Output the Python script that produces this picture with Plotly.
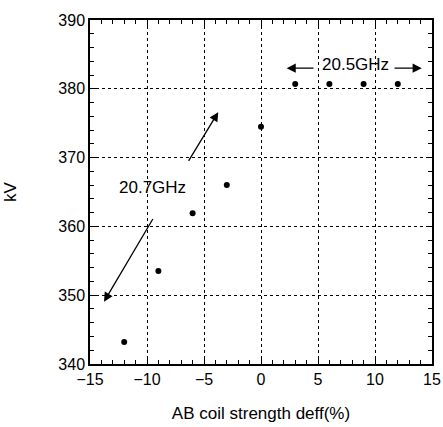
import plotly.graph_objects as go

x_vals = [-12, -9, -6, -3, 0, 3, 6, 9, 12]
kv_vals = [343.2, 353.5, 361.9, 366.0, 374.5, 380.7, 380.7, 380.7, 380.7]

x_ticks = [-15, -10, -5, 0, 5, 10, 15]
y_ticks = [340, 350, 360, 370, 380, 390]

font = "Liberation Sans, Arial, sans-serif"

fig = go.Figure()
fig.add_trace(go.Scatter(x=x_vals, y=kv_vals, mode="markers",
                         marker=dict(color="black", size=6), showlegend=False))

axis_common = dict(
    showline=True, linecolor="black", linewidth=1.5, mirror="ticks",
    ticks="inside", ticklen=6, tickcolor="black", automargin=False,
    showgrid=True, gridcolor="black", griddash="dot", gridwidth=1,
    zeroline=False, tickfont=dict(family=font, size=16, color="black"),
)

fig.update_xaxes(range=[-15, 15], tickvals=x_ticks,
                 minor=dict(dtick=1, ticks="inside", ticklen=4, tickcolor="black", showgrid=False),
                 title=dict(text="AB coil strength deff(%)", font=dict(family=font, size=17, color="black"), standoff=20),
                 **axis_common)
fig.update_yaxes(range=[340, 390], tickvals=y_ticks,
                 minor=dict(dtick=2, ticks="inside", ticklen=4, tickcolor="black", showgrid=False),
                 title=dict(text="kV", font=dict(family=font, size=17, color="black"), standoff=37),
                 **axis_common)

ann_font = dict(family=font, size=17, color="black")
annotations = [
    dict(x=-9.56, y=365.7, text="20.7GHz", showarrow=False, font=ann_font),
    dict(x=8.25, y=383.5, text="20.5GHz", showarrow=False, font=ann_font),
]
arrows = [
    ((-6.43, 369.3), (-3.75, 376.6)),
    ((-9.41, 361.3), (-13.77, 349.05)),
    ((4.74, 383.0), (2.25, 383.0)),
    ((11.58, 383.0), (14.1, 383.0)),
]
for (tx, ty), (hx, hy) in arrows:
    annotations.append(dict(x=hx, y=hy, ax=tx, ay=ty, xref="x", yref="y",
                            axref="x", ayref="y", text="", showarrow=True,
                            arrowhead=2, arrowsize=1.4, arrowwidth=1.3, arrowcolor="black"))

fig.update_layout(
    width=443, height=427,
    margin=dict(l=90, r=11, t=20, b=63),
    plot_bgcolor="white", paper_bgcolor="white",
    annotations=annotations,
)

fig.write_html("out.html", config={"displayModeBar": False},
               post_script="document.body.style.margin='0';document.body.style.overflow='hidden';")
